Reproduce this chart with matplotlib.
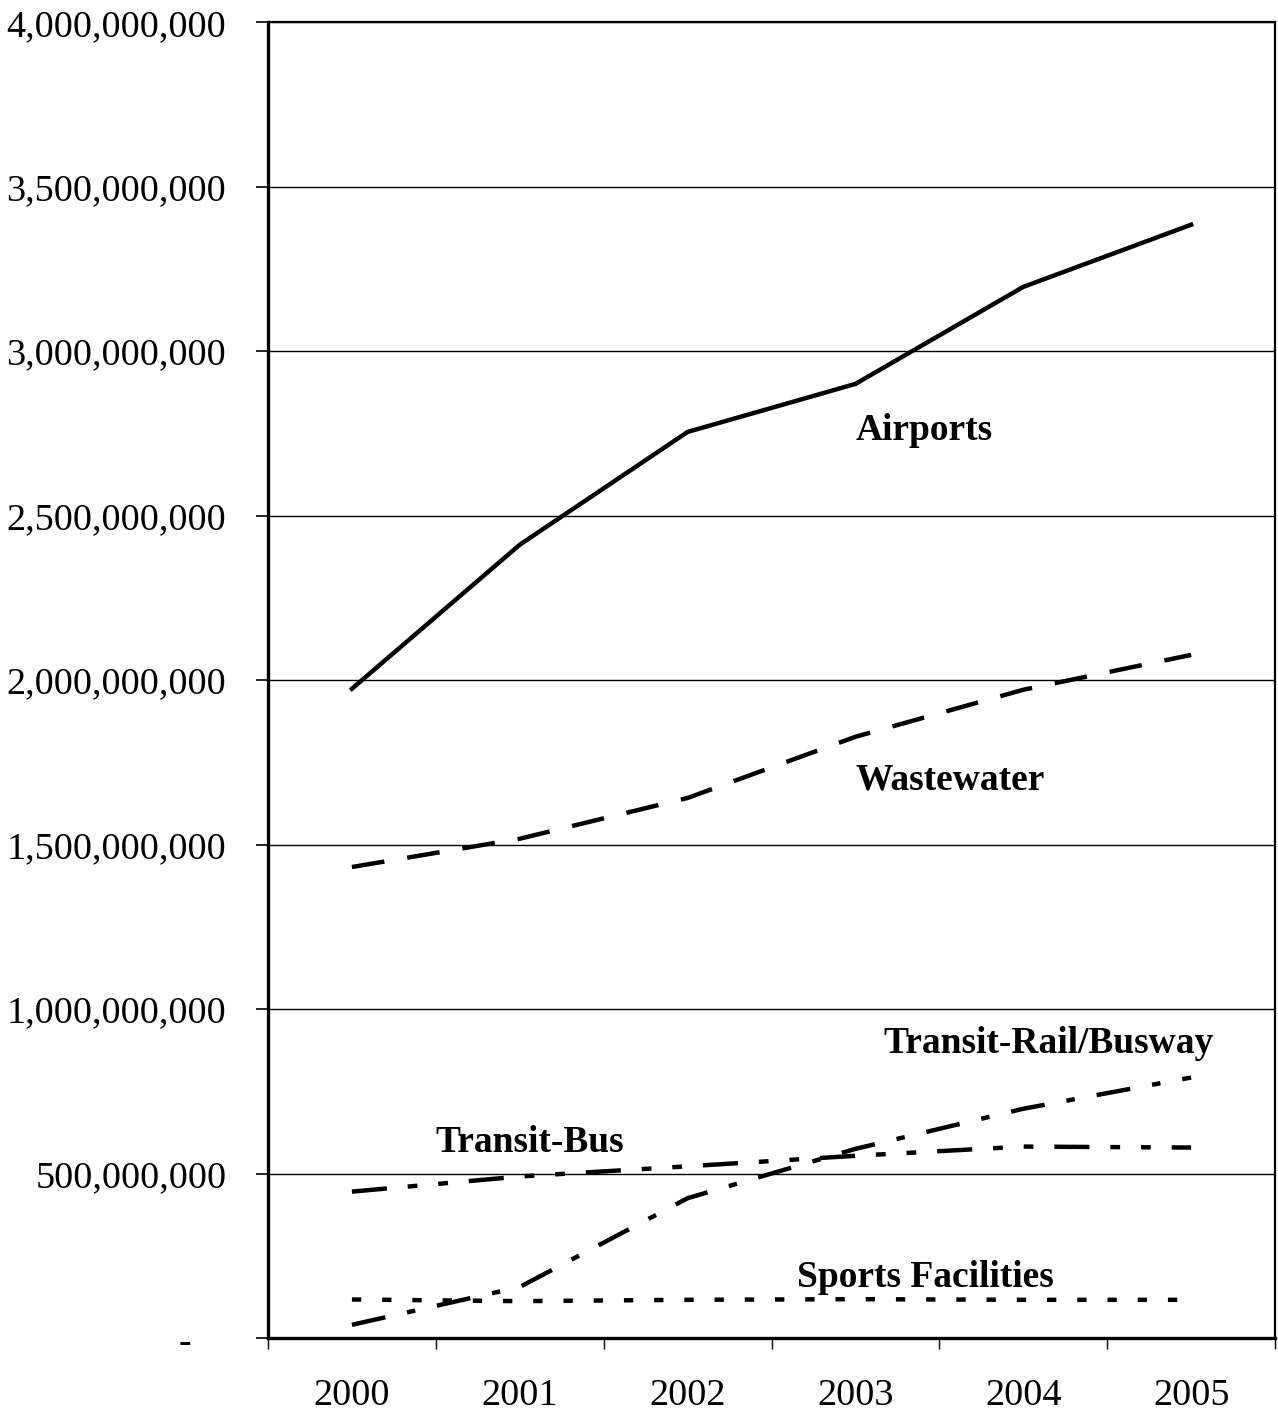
import matplotlib
matplotlib.use("Agg")
import matplotlib.pyplot as plt
from matplotlib.ticker import FuncFormatter, MultipleLocator, FixedLocator

# Annual spending by facility type
years = ["2000", "2001", "2002", "2003", "2004", "2005"]
airports = [1.974e9, 2.412e9, 2.755e9, 2.901e9, 3.196e9, 3.385e9]
wastewater = [1.432e9, 1.518e9, 1.642e9, 1.828e9, 1.971e9, 2.077e9]
transit_rail = [0.040e9, 0.155e9, 0.425e9, 0.575e9, 0.697e9, 0.792e9]
transit_bus = [0.445e9, 0.491e9, 0.522e9, 0.554e9, 0.582e9, 0.579e9]
sports = [0.117e9, 0.112e9, 0.116e9, 0.118e9, 0.116e9, 0.116e9]

plt.rcParams["font.family"] = ["Liberation Serif", "DejaVu Serif"]

fig = plt.figure(figsize=(12.78, 14.13), dpi=100)
ax = fig.add_axes([0.2097, 0.0531, 0.788, 0.931])

x = list(range(len(years)))
lw = 3.2
ax.plot(x, airports, color="black", lw=lw, solid_joinstyle="round", zorder=3)
ax.plot(x, wastewater, color="black", lw=lw, dashes=(7.4, 5.2), zorder=3)
ax.plot(x, transit_rail, color="black", lw=lw, dashes=(7.7, 5.0, 1.9, 5.0), zorder=3)
ax.plot(x, transit_bus, color="black", lw=lw,
        dashes=(7.9, 4.7, 2.2, 4.7, 2.2, 4.7), zorder=3)
ax.plot(x, sports, color="black", lw=lw, dashes=(2.1, 4.7), zorder=3)

# series names written next to their lines
label_kw = dict(fontsize=27, fontweight="bold", ha="left", va="baseline")
ax.text(3.0, 2.73e9, "Airports", **label_kw)
ax.text(3.0, 1.669e9, "Wastewater", **label_kw)
ax.text(3.164, 0.866e9, "Transit-Rail/Busway", **label_kw)
ax.text(0.495, 0.565e9, "Transit-Bus", **label_kw)
ax.text(2.652, 0.155e9, "Sports Facilities", **label_kw)

ax.set_xlim(-0.5, len(years) - 0.5)
ax.set_ylim(0, 4e9)

ax.yaxis.set_major_locator(MultipleLocator(5e8))
ax.yaxis.set_major_formatter(FuncFormatter(lambda v, p: "" if v == 0 else f"{v:,.0f}"))
ax.tick_params(axis="y", direction="out", length=9, width=1.2, pad=21,
               labelsize=27.5)
ax.grid(axis="y", color="black", lw=1.0)
ax.set_axisbelow(True)

# zero label shown as a dash, set further left like an accounting format
ax.annotate("-", xy=(0, 0), xycoords=("axes fraction", "data"),
            xytext=(-55, -3), textcoords="offset points",
            ha="right", va="center", fontsize=27.5, fontweight="bold")

ax.set_xticks(x)
ax.set_xticklabels(years)
ax.xaxis.set_minor_locator(FixedLocator([i - 0.5 for i in range(len(years) + 1)]))
ax.tick_params(axis="x", which="major", length=0, pad=29, labelsize=27.5)
ax.tick_params(axis="x", which="minor", direction="out", length=8, width=1)

for side in ["left", "bottom"]:
    ax.spines[side].set_linewidth(2.4)
for side in ["top", "right"]:
    ax.spines[side].set_linewidth(1.6)

fig.savefig("out.png", dpi=100)
